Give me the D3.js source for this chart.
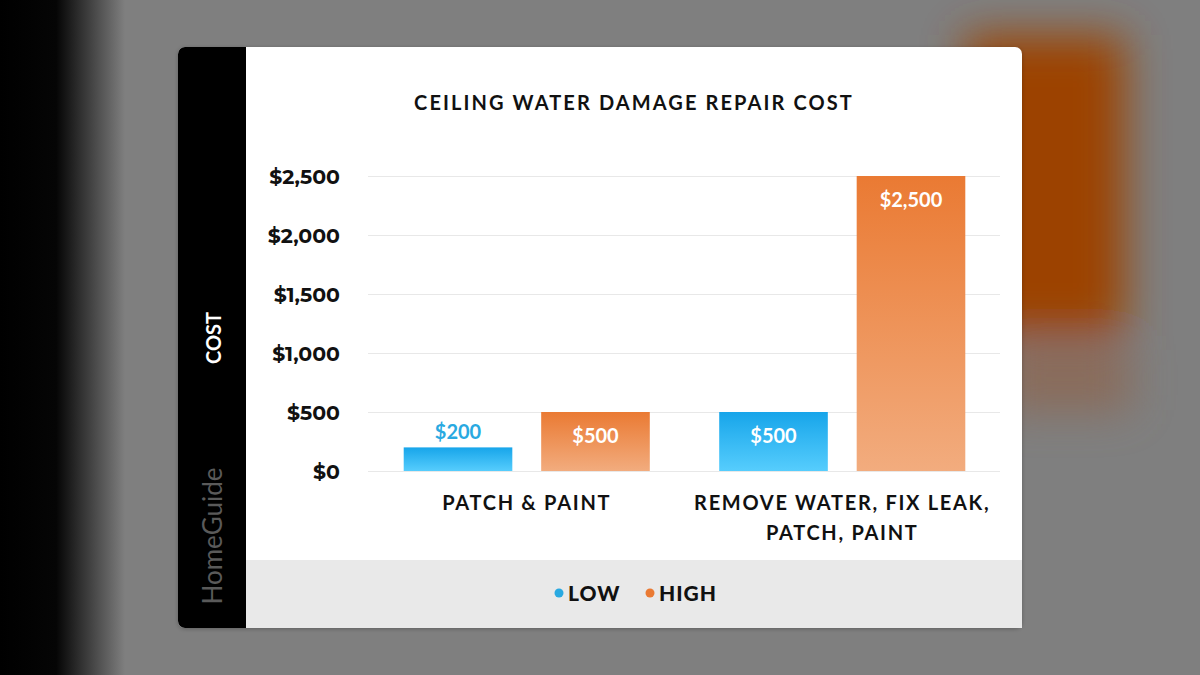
<!DOCTYPE html>
<html><head><meta charset="utf-8">
<script src="https://cdn.jsdelivr.net/npm/d3@7"></script>
<style>html,body{margin:0;padding:0;background:#808080;}svg{display:block;}</style>
</head><body>
<svg id="chart" width="1200" height="675"></svg>
<script>
const categories = [["PATCH & PAINT"], ["REMOVE WATER, FIX LEAK,", "PATCH, PAINT"]];
const categoryKeys = ["PATCH & PAINT", "REMOVE WATER, FIX LEAK, PATCH, PAINT"];
const seriesNames = ["LOW", "HIGH"];
const lowValues = [200, 500];
const highValues = [500, 2500];
const tickValues = [0, 500, 1000, 1500, 2000, 2500];
const tickLabels = ["$0", "$500", "$1,000", "$1,500", "$2,000", "$2,500"];
const title = "CEILING WATER DAMAGE REPAIR COST";

const svg = d3.select("#chart");
const defs = svg.append("defs");
const blur = defs.append("filter").attr("id","bg").attr("x","-50%").attr("y","-50%").attr("width","200%").attr("height","200%");
blur.append("feGaussianBlur").attr("stdDeviation", 22);
const gB = defs.append("linearGradient").attr("id","gBlue").attr("x1",0).attr("y1",0).attr("x2",0).attr("y2",1);
gB.append("stop").attr("offset","0%").attr("stop-color","#17a5ea");
gB.append("stop").attr("offset","100%").attr("stop-color","#56cdfd");
const gO = defs.append("linearGradient").attr("id","gOrange").attr("x1",0).attr("y1",0).attr("x2",0).attr("y2",1);
gO.append("stop").attr("offset","0%").attr("stop-color","#ea7a33");
gO.append("stop").attr("offset","100%").attr("stop-color","#f2ac7e");
const gL = defs.append("linearGradient").attr("id","gLeft").attr("x1",0).attr("y1",0).attr("x2",1).attr("y2",0);
gL.append("stop").attr("offset","0%").attr("stop-color","#000");
gL.append("stop").attr("offset","45%").attr("stop-color","#050505");
gL.append("stop").attr("offset","100%").attr("stop-color","#7f7f7f");
const sh = defs.append("filter").attr("id","shadow").attr("x","-10%").attr("y","-10%").attr("width","120%").attr("height","120%");
sh.append("feDropShadow").attr("dx",0).attr("dy",1).attr("stdDeviation",2).attr("flood-color","#000").attr("flood-opacity",0.25);

// blurred background
svg.append("rect").attr("width",1200).attr("height",675).attr("fill","#7f7f7f");
svg.append("rect").attr("x",0).attr("y",0).attr("width",125).attr("height",675).attr("fill","url(#gLeft)");
const bg = svg.append("g").attr("filter","url(#bg)");
bg.append("rect").attr("x",965).attr("y",35).attr("width",160).attr("height",300).attr("fill","#9c4204");
bg.append("rect").attr("x",1000).attr("y",350).attr("width",130).attr("height",60).attr("fill","#8a6a58");

// card
const card = svg.append("g").attr("filter","url(#shadow)");
card.append("rect").attr("x",178).attr("y",47).attr("width",844).attr("height",581).attr("rx",7).attr("fill","#ffffff");
svg.append("rect").attr("x",246).attr("y",560).attr("width",776).attr("height",68).attr("fill","#e9e9e9");
svg.append("path").attr("d","M185,47 H246 V628 H185 A7,7 0 0 1 178,621 V54 A7,7 0 0 1 185,47 Z").attr("fill","#000");
svg.append("path").attr("d","M1015,628 H246 V560 H1022 V621 A7,7 0 0 1 1015,628 Z").attr("fill","#e9e9e9");

svg.append("text").attr("transform","translate(221,338) rotate(-90)").attr("text-anchor","middle")
  .attr("font-family","Lato, sans-serif").attr("font-weight",700).attr("font-size",20).attr("fill","#fff").text("COST");
svg.append("text").attr("transform","translate(222,536) rotate(-90)").attr("text-anchor","middle")
  .attr("font-family","Lato, sans-serif").attr("font-weight",400).attr("font-size",26).attr("fill","#5a5a5a").text("HomeGuide");

// title
svg.append("text").attr("x",634).attr("y",110).attr("text-anchor","middle")
  .attr("font-family","Lato, sans-serif").attr("font-weight",700).attr("font-size",20).attr("letter-spacing",2.1).attr("fill","#111").text(title);

// scales
const y = d3.scaleLinear().domain([0,2500]).range([471,176]);
const x0 = d3.scaleBand().domain(categoryKeys).range([369,1000]).paddingInner(0.22).paddingOuter(0.11);
const x1 = d3.scaleBand().domain(seriesNames).range([0,x0.bandwidth()]).paddingInner(0.21);

// grid
const grid = svg.append("g").attr("transform","translate(368,0)")
  .call(d3.axisLeft(y).tickValues(tickValues).tickSize(-(1000-368)).tickFormat(""));
grid.select(".domain").remove();
grid.selectAll("line").attr("stroke","#e8e8e8").attr("stroke-width",1);

// y tick labels
const yAxis = svg.append("g").attr("transform","translate(340,0)")
  .call(d3.axisLeft(y).tickValues(tickValues).tickSize(0).tickPadding(0).tickFormat((d,i)=>tickLabels[i]));
yAxis.select(".domain").remove();
yAxis.selectAll("text").attr("font-family","Montserrat, 'Open Sans', sans-serif").attr("font-weight",700)
  .attr("font-size",20.5).attr("fill","#111").attr("dy","0.35em");

// bars
const data = categoryKeys.map((c,i)=>({cat:c, vals:[{s:"LOW",v:lowValues[i]},{s:"HIGH",v:highValues[i]}]}));
const groups = svg.append("g").selectAll("g").data(data).join("g").attr("transform",d=>`translate(${x0(d.cat)},0)`);
groups.selectAll("rect").data(d=>d.vals).join("rect")
  .attr("x",d=>x1(d.s)).attr("y",d=>y(d.v)).attr("width",x1.bandwidth()).attr("height",d=>y(0)-y(d.v))
  .attr("fill",d=>d.s==="LOW"?"url(#gBlue)":"url(#gOrange)");
const fmt = v => "$" + d3.format(",")(v);
groups.selectAll("text.val").data(d=>d.vals).join("text").attr("class","val")
  .attr("x",d=>x1(d.s)+x1.bandwidth()/2)
  .attr("y",d=> (y(0)-y(d.v) < 40) ? y(d.v)-8 : y(d.v)+31)
  .attr("text-anchor","middle").attr("font-family","Lato, sans-serif").attr("font-weight",700).attr("font-size",20)
  .attr("fill",d=> (y(0)-y(d.v) < 40) ? "#29a9e1" : "#fff").text(d=>fmt(d.v));

// x labels
categoryKeys.forEach((c,i)=>{
  const t = svg.append("text").attr("x",x0(c)+x0.bandwidth()/2).attr("y",510).attr("text-anchor","middle")
    .attr("font-family","Lato, sans-serif").attr("font-weight",700).attr("font-size",20).attr("letter-spacing",1.7).attr("fill","#111");
  categories[i].forEach((line,j)=>t.append("tspan").attr("x",x0(c)+x0.bandwidth()/2).attr("dy",j?30:0).text(line));
});

// legend
const legendX = [559, 650];
const legendColors = ["#29a9e1","#ea7a33"];
seriesNames.forEach((s,i)=>{
  svg.append("circle").attr("cx",legendX[i]).attr("cy",593).attr("r",4.5).attr("fill",legendColors[i]);
  svg.append("text").attr("x",legendX[i]+9).attr("y",601).attr("font-family","Lato, sans-serif").attr("font-weight",900)
    .attr("font-size",21).attr("letter-spacing",1).attr("fill","#111").text(s);
});
</script>
</body></html>
